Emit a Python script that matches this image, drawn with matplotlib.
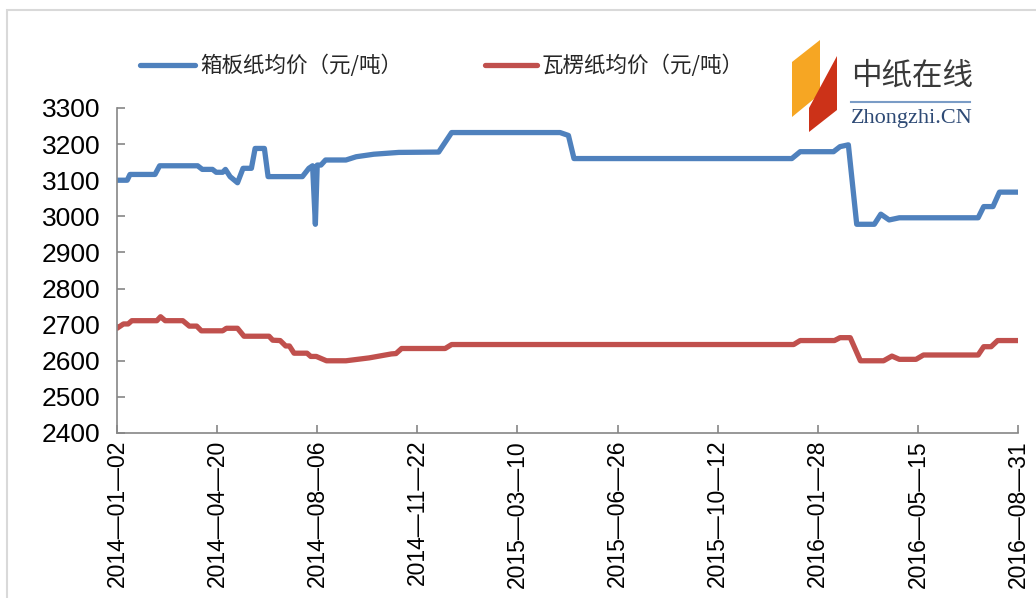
import matplotlib
matplotlib.use("Agg")
import matplotlib.pyplot as plt
from matplotlib.patches import Polygon, Rectangle
from matplotlib.lines import Line2D
import pandas as pd

plt.rcParams['font.family'] = ['Liberation Sans', 'Noto Sans CJK SC', 'DejaVu Sans']

# ---- data (days counted from 2014-01-02) ----
start_date = "2014-01-02"
end_date = "2016-08-31"

box_days = [0, 11, 14, 41, 46, 87, 92, 103, 107, 114, 117, 122, 130, 136, 145, 149, 159, 163,
            200, 207, 211, 214, 216, 220, 225, 247, 258, 277, 304, 347, 361, 478, 487, 493,
            728, 737, 773, 780, 789, 798, 817, 824, 833, 844, 929, 935, 945, 952, 972]
box_price = [3100, 3100, 3116, 3116, 3140, 3140, 3130, 3130, 3122, 3122, 3130, 3110, 3093, 3133, 3133, 3188, 3188, 3110,
             3110, 3133, 3140, 2978, 3142, 3142, 3156, 3156, 3165, 3172, 3177, 3178, 3232, 3232, 3224, 3160,
             3160, 3179, 3179, 3193, 3198, 2978, 2978, 3006, 2990, 2996, 2996, 3027, 3027, 3067, 3067]

corr_days = [0, 7, 12, 16, 43, 47, 52, 71, 78, 86, 91, 114, 118, 130, 137, 164, 168, 176, 182, 186,
             191, 205, 209, 215, 226, 247, 272, 296, 301, 307, 354, 361, 730, 737, 774, 780, 791,
             802, 827, 836, 844, 862, 870, 929, 935, 943, 950, 972]
corr_price = [2690, 2702, 2702, 2711, 2711, 2722, 2711, 2711, 2696, 2696, 2683, 2683, 2690, 2690, 2668, 2668, 2657, 2656, 2641, 2641,
              2621, 2621, 2612, 2612, 2600, 2600, 2608, 2619, 2620, 2634, 2634, 2645, 2645, 2656, 2656, 2664, 2664,
              2600, 2600, 2613, 2604, 2604, 2616, 2616, 2639, 2639, 2656, 2656]

series_names = ["箱板纸均价（元/吨）", "瓦楞纸均价（元/吨）"]
series_colors = ["#4F81BD", "#C0504D"]

y_ticks = [2400, 2500, 2600, 2700, 2800, 2900, 3000, 3100, 3200, 3300]
tick_step_days = 108

base = pd.Timestamp(start_date)
box_dates = base + pd.to_timedelta(box_days, unit="D")
corr_dates = base + pd.to_timedelta(corr_days, unit="D")
x_tick_dates = pd.date_range(start_date, end_date, freq=f"{tick_step_days}D")

# ---- figure ----
fig = plt.figure(figsize=(10.36, 5.98), dpi=100)
W, H = 1036, 598


def fx(x):
    return x / W


def fy(y):
    return 1 - y / H


# outer light-gray border
fig.patches.append(Rectangle((fx(7), -0.01), 1.05, fy(10) + 0.01, transform=fig.transFigure,
                             fill=False, edgecolor="#D9D9D9", linewidth=1.5))

ax = fig.add_axes([fx(117), fy(433), (1018 - 117) / W, (433 - 108) / H])
lines = []
for xs, ys, name, col in [(box_dates, box_price, series_names[0], series_colors[0]),
                          (corr_dates, corr_price, series_names[1], series_colors[1])]:
    ln, = ax.plot(xs, ys, color=col, lw=3.8, solid_joinstyle="round",
                  solid_capstyle="round", label=name)
    lines.append(ln)

ax.set_xlim(base, pd.Timestamp(end_date))
ax.set_ylim(2400, 3300)
ax.set_yticks(y_ticks)
ax.set_yticklabels([str(v) for v in y_ticks], fontsize=19, color="#000000")
ax.set_xticks(x_tick_dates)
ax.set_xticklabels([d.strftime("%Y—%m—%d") for d in x_tick_dates], rotation=90,
                   fontsize=16.5, color="#000000")

for s in ["top", "right"]:
    ax.spines[s].set_visible(False)
for s in ["left", "bottom"]:
    ax.spines[s].set_color("#868686")
    ax.spines[s].set_linewidth(1.2)
ax.tick_params(axis="both", direction="in", length=6, width=1.2, color="#868686")
ax.tick_params(axis="y", pad=12)
ax.tick_params(axis="x", pad=5)
ax.patch.set_alpha(0)

# legend (placed manually)
leg_pos = [(140, 195, 200), (485, 537, 542)]
for ln, (x0, x1, xt) in zip(lines, leg_pos):
    fig.add_artist(Line2D([fx(x0), fx(x1)], [fy(65), fy(65)], transform=fig.transFigure,
                          color=ln.get_color(), lw=3.8, solid_capstyle="round"))
    fig.text(fx(xt), fy(66), ln.get_label(), fontsize=15.5, family=["Noto Sans CJK SC"],
             color="#262626", va="center", ha="left")

# logo (中纸在线 / Zhongzhi.CN)
fig.patches.append(Polygon([(fx(792), fy(62)), (fx(820), fy(40)), (fx(820), fy(94)), (fx(792), fy(117))],
                           closed=True, transform=fig.transFigure, facecolor="#F6A623", edgecolor="none"))
fig.patches.append(Polygon([(fx(809), fy(108)), (fx(837), fy(56)), (fx(837), fy(110)), (fx(809), fy(132))],
                           closed=True, transform=fig.transFigure, facecolor="#CC3218", edgecolor="none"))
fig.text(fx(851), fy(76), "中纸在线", fontsize=22, family=["Noto Sans CJK SC"], color="#3A3A3A",
         va="center", ha="left")
fig.add_artist(Line2D([fx(851), fx(970)], [fy(102), fy(102)], transform=fig.transFigure,
                      color="#7A9CC6", lw=1.5))
fig.text(fx(851), fy(118), "Zhongzhi.CN", fontsize=16, family=["Liberation Serif"], color="#2E4A75",
         va="center", ha="left")

fig.savefig("out.png", dpi=100)
